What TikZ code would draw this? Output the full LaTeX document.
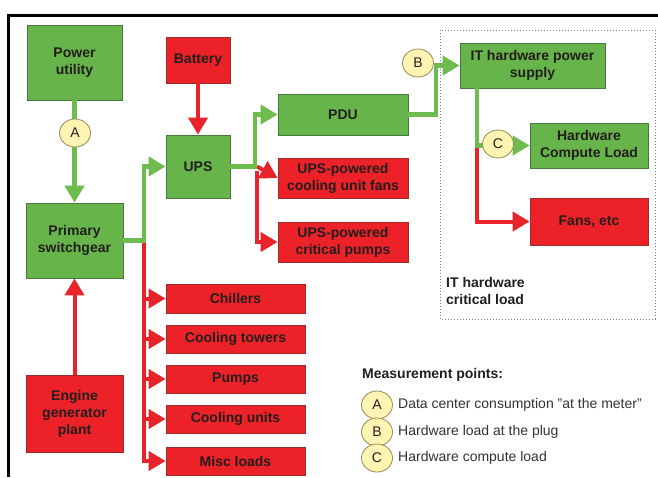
\documentclass[tikz,border=0pt]{standalone}
\usepackage{fontspec}
\setmainfont{Liberation Sans}
\usetikzlibrary{arrows.meta,calc,shapes.geometric}
\definecolor{gfill}{RGB}{102,180,74}
\definecolor{gdraw}{RGB}{72,120,62}
\definecolor{gline}{RGB}{110,188,80}
\definecolor{rfill}{RGB}{236,34,40}
\definecolor{rdraw}{RGB}{150,45,45}
\definecolor{rline}{RGB}{232,36,42}
\definecolor{cfill}{RGB}{255,244,178}
\definecolor{cdraw}{RGB}{150,140,90}
\definecolor{txt}{RGB}{35,30,30}
\begin{document}
\begin{tikzpicture}[x=1pt,y=-1pt,
  lbl/.style={font=\bfseries\fontsize{14}{17}\selectfont, text=txt, align=center, inner sep=1pt},
  gbox/.style={lbl, draw=gdraw, fill=gfill, line width=0.8pt},
  rbox/.style={lbl, draw=rdraw, fill=rfill, line width=0.8pt},
  meas/.style={ellipse, draw=cdraw, fill=cfill, line width=0.8pt, minimum width=31, minimum height=28, inner sep=0pt, font=\fontsize{14}{17}\selectfont, text=txt},
  gcon/.style={draw=gline, line width=4.5pt},
  rcon/.style={draw=rline, line width=4pt},
  garr/.style={gcon, -{Triangle[length=17pt,width=19pt]}},
  rarr/.style={rcon, -{Triangle[length=17pt,width=19pt]}},
  legtxt/.style={font=\fontsize{14}{17}\selectfont, text=black!80, anchor=west, inner sep=0pt}
]
\useasboundingbox (0,0) rectangle (658,477);
\fill[white] (0,0) rectangle (658,477);
% frame
\draw[line width=3pt, black] (658,15) -- (8,15) -- (8,477);

% dashed region
\draw[gray, dotted, line width=1pt] (440,30) rectangle (655,319);

% nodes
\node[gbox, minimum width=95, minimum height=75] (pu) at (74.5,62.5) {Power\\utility};
\node[rbox, minimum width=64, minimum height=46] (bat) at (198,60) {Battery};
\node[gbox, minimum width=64, minimum height=63] (ups) at (198,166.5) {UPS};
\node[gbox, minimum width=130, minimum height=41] (pdu) at (343,114.5) {PDU};
\node[rbox, minimum width=130, minimum height=40] (fans1) at (343,178) {UPS-powered\\cooling unit fans};
\node[rbox, minimum width=130, minimum height=40] (pumps1) at (343,242) {UPS-powered\\critical pumps};
\node[gbox, minimum width=97, minimum height=75] (sw) at (74.5,240.5) {Primary\\switchgear};
\node[rbox, minimum width=97, minimum height=77] (eng) at (74.5,413.5) {Engine\\generator\\plant};
\node[rbox, minimum width=139, minimum height=29] (chill) at (235.5,298.5) {Chillers};
\node[rbox, minimum width=139, minimum height=28] (ct) at (235.5,339) {Cooling towers};
\node[rbox, minimum width=139, minimum height=28] (pumps) at (235.5,379) {Pumps};
\node[rbox, minimum width=139, minimum height=28] (cu) at (235.5,419) {Cooling units};
\node[rbox, minimum width=139, minimum height=28] (misc) at (235.5,461) {Misc loads};
\node[gbox, minimum width=145, minimum height=45] (itps) at (532.5,65.5) {IT hardware power\\supply};
\node[gbox, minimum width=118, minimum height=45] (hcl) at (589,145.5) {Hardware\\Compute Load};
\node[rbox, minimum width=118, minimum height=47] (fans) at (589,221.5) {Fans, etc};

\node[lbl, align=left, anchor=west] (itlbl) at (445,291) {IT hardware\\critical load};

% junction coordinates
\coordinate (j1) at (144,240.5);
\coordinate (j2) at (255,166.5);
\coordinate (j3) at (436,114.5);
\coordinate (j4) at (477,145.5);

% red connectors
\draw[rarr] (eng.north) -- (sw.south);
\draw[rarr] (bat.south) -- (ups.north);
\draw[rarr] (j1) |- (misc.west);
\draw[rarr] (j1 |- chill.west) -- (chill.west);
\draw[rarr] (j1 |- ct.west) -- (ct.west);
\draw[rarr] (j1 |- pumps.west) -- (pumps.west);
\draw[rarr] (j1 |- cu.west) -- (cu.west);
\draw[rarr] ($(j2)+(2,4)$) |- (pumps1.west);
\draw[rarr] ($(j2)+(2,0)$ |- fans1.west) -- (fans1.west);
\draw[rarr] (j4) |- (fans.west);

% green connectors
\draw[garr] (pu.south) -- (sw.north);
\draw[gcon] (sw.east |- j1) -- (j1);
\draw[garr] ($(j1)+(0,2.25)$) |- (ups.west);
\draw[gcon] (ups.east) -- (j2);
\draw[garr] ($(j2)+(0,2.25)$) |- (pdu.west);
\draw[gcon] (pdu.east) -- (j3);
\draw[garr] ($(j3)+(0,2.25)$) |- (itps.west);
\draw[gcon] (itps.south -| j4) -- ($(j4)+(0,2.25)$);
\draw[garr] (j4) -- (hcl.west);

% measurement points
\node[meas] (mA) at (75,133) {A};
\node[meas] (mB) at (418,63) {B};
\node[meas] (mC) at (498,144) {C};

% legend
\node[font=\bfseries\fontsize{14}{17}\selectfont, text=txt, anchor=west, inner sep=0pt] (legtitle) at (362,375) {Measurement points:};
\node[meas] (lA) at (377,405) {A};
\node[meas] (lB) at (377,432) {B};
\node[meas] (lC) at (377,458) {C};
\node[legtxt] (tA) at (398,405) {Data center consumption ”at the meter”};
\node[legtxt] (tB) at (398,432) {Hardware load at the plug};
\node[legtxt] (tC) at (398,458) {Hardware compute load};
\end{tikzpicture}
\end{document}
